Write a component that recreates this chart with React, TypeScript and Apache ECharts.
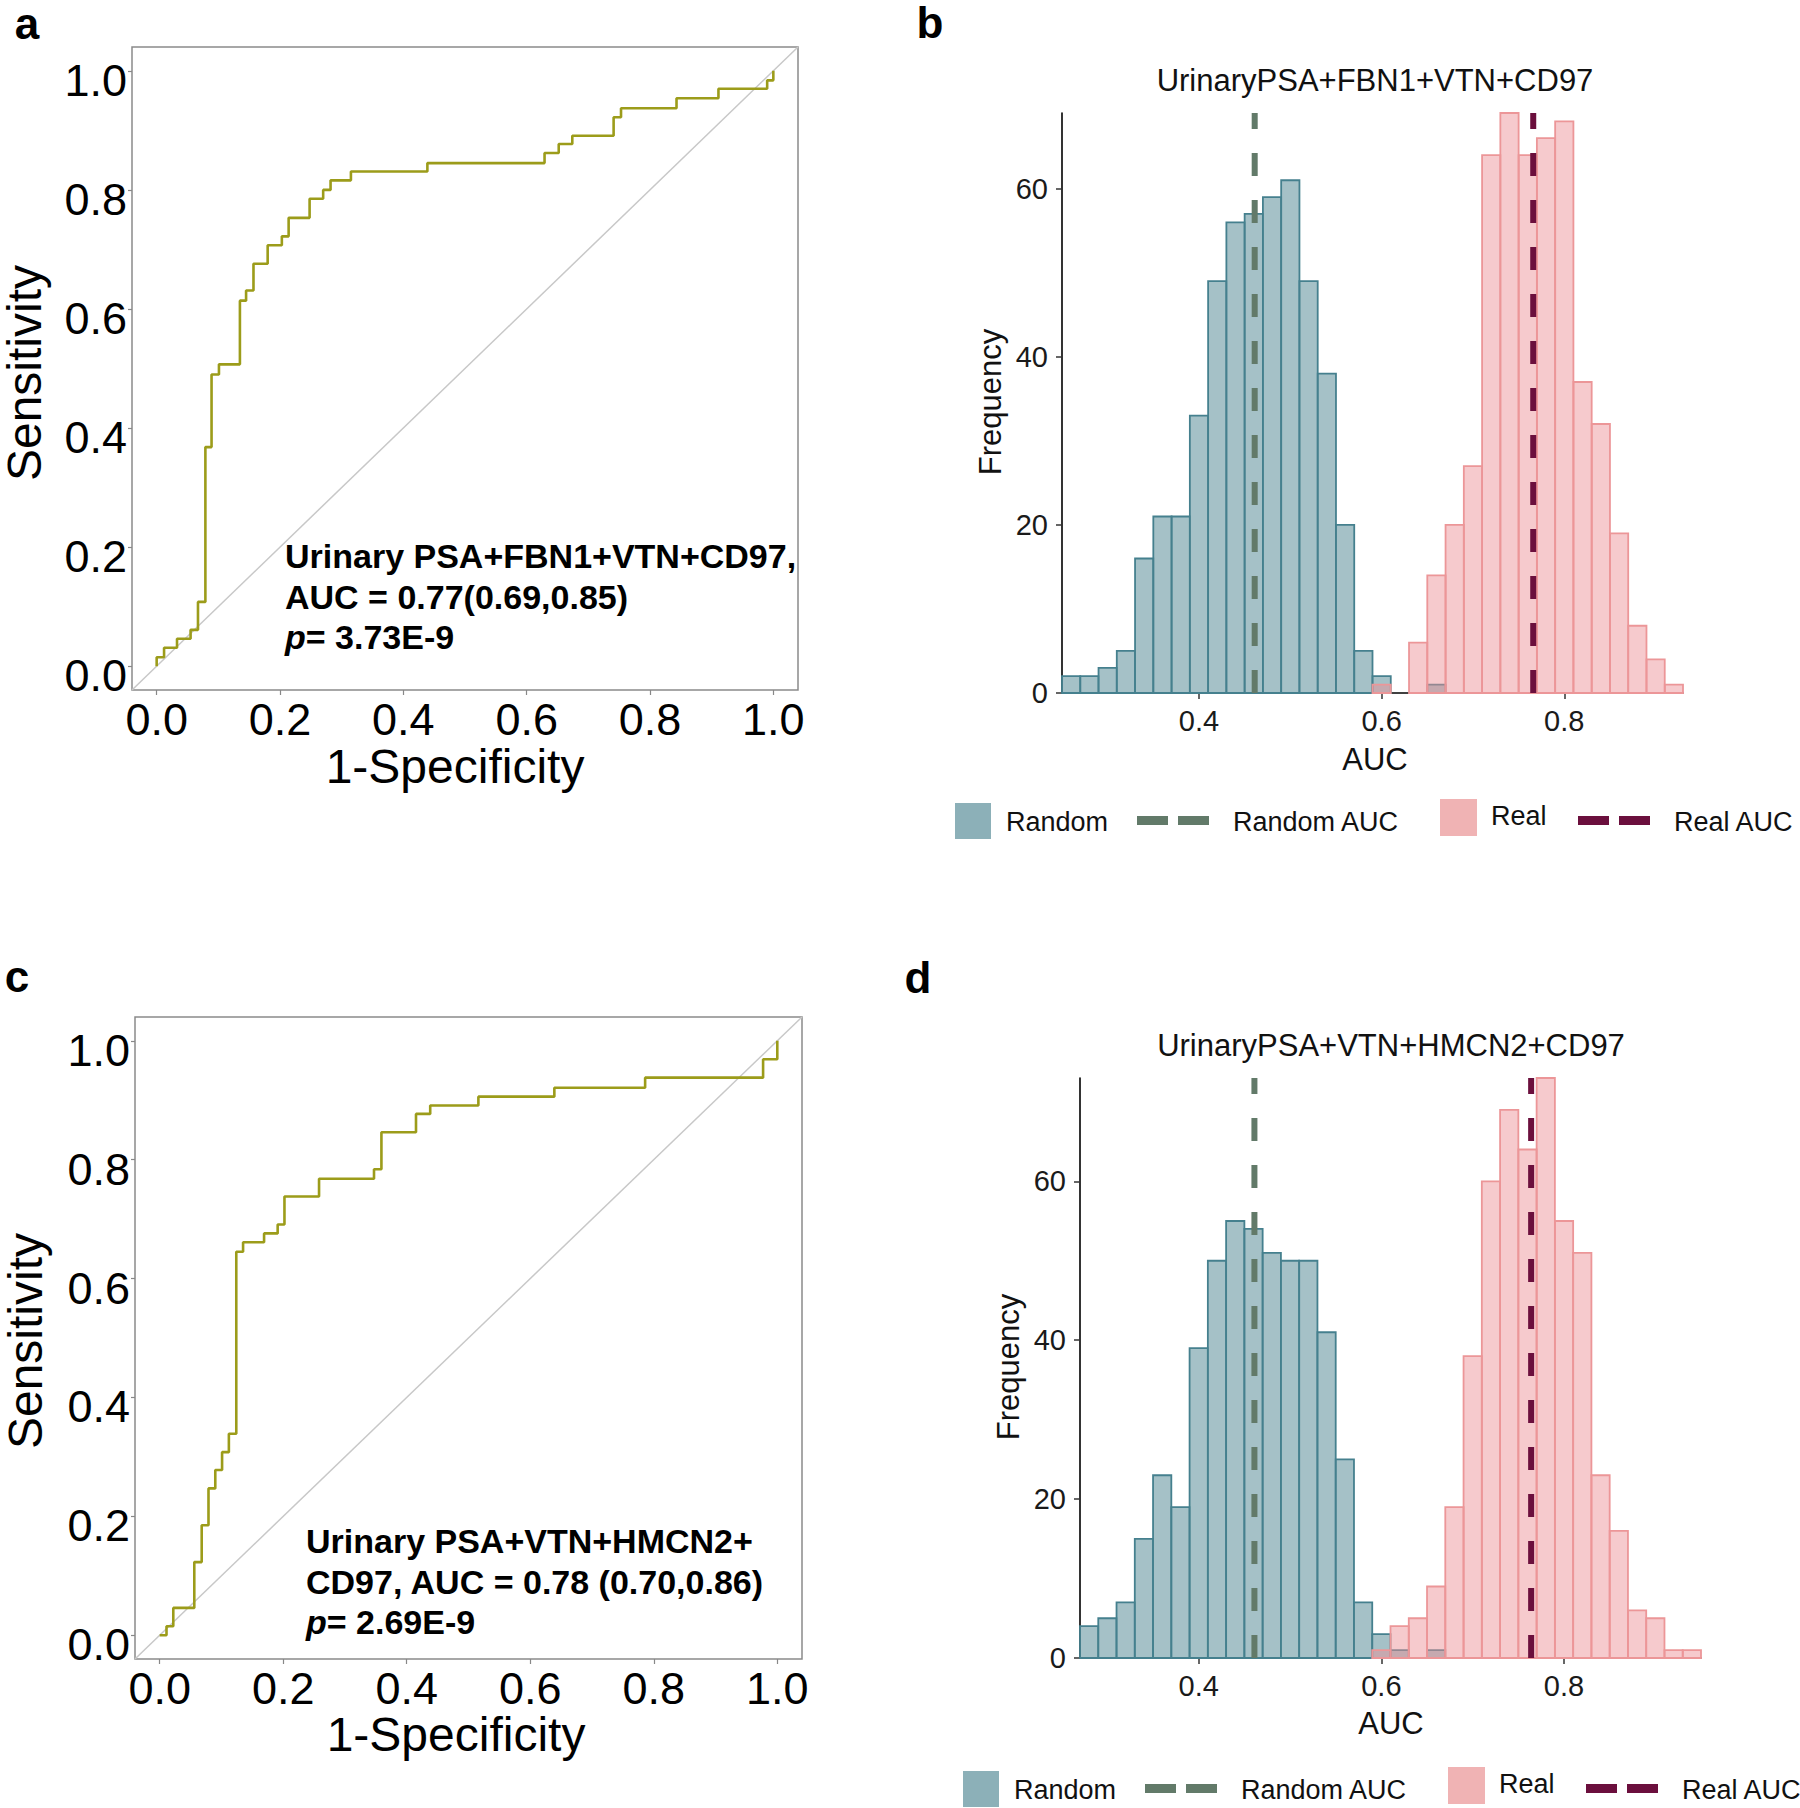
import React, { useEffect, useRef } from 'react';
import * as echarts from 'echarts';

// ---------- DATA ----------
// Panel a ROC (1-specificity, sensitivity) corner points, drawn as a step line
const ROC_A_FPR = [0, 0.012, 0.033, 0.055, 0.067, 0.079, 0.089, 0.101, 0.135, 0.145, 0.157, 0.180, 0.203, 0.214, 0.248, 0.270, 0.282, 0.315, 0.439, 0.629, 0.652, 0.674, 0.741, 0.753, 0.843, 0.911, 0.990, 1.0, 1.0];
const ROC_A_TPR = [0, 0.015, 0.031, 0.046, 0.061, 0.108, 0.368, 0.490, 0.507, 0.614, 0.631, 0.676, 0.707, 0.722, 0.753, 0.785, 0.800, 0.816, 0.831, 0.845, 0.862, 0.877, 0.891, 0.922, 0.937, 0.954, 0.970, 0.984, 1.0];
// Panel c ROC
const ROC_C_FPR = [0, 0.011, 0.022, 0.056, 0.068, 0.079, 0.090, 0.101, 0.112, 0.124, 0.135, 0.169, 0.191, 0.202, 0.258, 0.347, 0.359, 0.415, 0.438, 0.516, 0.639, 0.786, 0.977, 1.0, 1.0];
const ROC_C_TPR = [0, 0, 0.015, 0.046, 0.123, 0.185, 0.247, 0.278, 0.308, 0.339, 0.645, 0.661, 0.676, 0.691, 0.738, 0.768, 0.784, 0.846, 0.877, 0.891, 0.906, 0.921, 0.938, 0.969, 1.0];
const ROC_TICKS = [0, 0.2, 0.4, 0.6, 0.8, 1.0];

// Histograms (bin width 0.02)
const BIN_WIDTH = 0.02;
const HIST_B_START = 0.25;
const HIST_B_RANDOM = [2, 2, 3, 5, 16, 21, 21, 33, 49, 56, 57, 59, 61, 49, 38, 20, 5, 2, 0, 0, 1, 0, 0, 0, 0, 0, 0, 0, 0, 0, 0, 0, 0, 0];
const HIST_B_REAL = [0, 0, 0, 0, 0, 0, 0, 0, 0, 0, 0, 0, 0, 0, 0, 0, 0, 1, 0, 6, 14, 20, 27, 64, 69, 64, 66, 68, 37, 32, 19, 8, 4, 1];
const HIST_D_START = 0.27;
const HIST_D_RANDOM = [4, 5, 7, 15, 23, 19, 39, 50, 55, 54, 51, 50, 50, 41, 25, 7, 3, 1, 0, 1, 0, 0, 0, 0, 0, 0, 0, 0, 0, 0, 0, 0, 0, 0];
const HIST_D_REAL = [0, 0, 0, 0, 0, 0, 0, 0, 0, 0, 0, 0, 0, 0, 0, 0, 1, 4, 5, 9, 19, 38, 60, 69, 64, 73, 55, 51, 23, 16, 6, 5, 1, 1];
const AUC_B_RANDOM = 0.461;
const AUC_B_REAL = 0.766;
const AUC_D_RANDOM = 0.461;
const AUC_D_REAL = 0.764;
const HIST_B_YMAX = 69;
const HIST_D_YMAX = 73;
const HIST_X_TICKS = [0.4, 0.6, 0.8];
const HIST_Y_TICKS = [0, 20, 40, 60];

const TITLE_B = 'UrinaryPSA+FBN1+VTN+CD97';
const TITLE_D = 'UrinaryPSA+VTN+HMCN2+CD97';
const ANNOT_A = ['Urinary PSA+FBN1+VTN+CD97,', 'AUC = 0.77(0.69,0.85)', '= 3.73E-9'];
const ANNOT_C = ['Urinary PSA+VTN+HMCN2+', 'CD97, AUC = 0.78 (0.70,0.86)', '= 2.69E-9'];
const LEGEND_LABELS = ['Random', 'Random AUC', 'Real', 'Real AUC'];

// ---------- STYLE ----------
const FONT = '"Liberation Sans", Arial, Helvetica, sans-serif';
const ROC_COLOR = '#9c9c1a';
const DIAG_COLOR = '#c8c8c8';
const RANDOM_FILL = 'rgba(110,155,165,0.62)';
const RANDOM_STROKE = '#45808e';
const REAL_FILL = 'rgba(236,143,148,0.47)';
const REAL_STROKE = '#ec9698';
const RANDOM_AUC_COLOR = '#627a69';
const REAL_AUC_COLOR = '#6b0f3d';
const RANDOM_KEY = '#8cb0b8';
const REAL_KEY = '#f0b3b4';

function toBins(start: number, counts: number[]) {
  return counts
    .map((c, i) => [start + i * BIN_WIDTH, start + (i + 1) * BIN_WIDTH, c])
    .filter((d) => d[2] > 0);
}

function histSeries(idx: number, name: string, data: number[][], fill: string, stroke: string) {
  return {
    type: 'custom',
    name,
    xAxisIndex: idx,
    yAxisIndex: idx,
    data,
    encode: { x: [0, 1], y: 2 },
    silent: true,
    renderItem: (params: any, api: any) => {
      const a = api.coord([api.value(0), api.value(2)]);
      const b = api.coord([api.value(1), 0]);
      return {
        type: 'rect',
        shape: { x: a[0], y: a[1], width: b[0] - a[0], height: b[1] - a[1] },
        style: { fill, stroke, lineWidth: 1.8 },
      };
    },
  };
}

function aucLine(idx: number, name: string, x: number, ymax: number, color: string) {
  return {
    type: 'line',
    name,
    xAxisIndex: idx,
    yAxisIndex: idx,
    data: [[x, 0], [x, ymax]],
    symbol: 'none',
    silent: true,
    z: 5,
    lineStyle: { color, width: 6, type: [23, 24] },
  };
}

function rocAxes(idx: number) {
  const x = {
    gridIndex: idx,
    type: 'value',
    position: 'bottom',
    min: -0.04,
    max: 1.04,
    axisLine: { show: false, onZero: false },
    splitLine: { show: false },
    axisTick: { show: true, customValues: ROC_TICKS, length: 5, lineStyle: { color: '#888', width: 1.2 } },
    axisLabel: {
      customValues: ROC_TICKS,
      formatter: (v: number) => v.toFixed(1),
      fontSize: 45,
      lineHeight: 40,
      color: '#000',
      fontFamily: FONT,
      margin: 9,
    },
  };
  const y = {
    gridIndex: idx,
    type: 'value',
    position: 'left',
    min: -0.04,
    max: 1.04,
    axisLine: { show: false, onZero: false },
    splitLine: { show: false },
    axisTick: { show: true, customValues: ROC_TICKS, length: 4, lineStyle: { color: '#888', width: 1.2 } },
    axisLabel: {
      customValues: ROC_TICKS,
      formatter: (v: number) => v.toFixed(1),
      fontSize: 45,
      lineHeight: 19,
      verticalAlign: 'top',
      color: '#000',
      fontFamily: FONT,
      margin: 5,
    },
  };
  return { x, y };
}

function histAxes(idx: number, min: number, max: number, ymax: number) {
  const lineStyle = { color: '#000', width: 1.6 };
  const x = {
    gridIndex: idx,
    type: 'value',
    position: 'bottom',
    min,
    max,
    axisLine: { show: true, onZero: false, lineStyle },
    splitLine: { show: false },
    axisTick: { show: true, customValues: HIST_X_TICKS, length: 6, lineStyle: { color: '#333', width: 1.5 } },
    axisLabel: {
      customValues: HIST_X_TICKS,
      formatter: (v: number) => v.toFixed(1),
      fontSize: 29,
      color: '#1a1a1a',
      fontFamily: FONT,
      margin: 13,
    },
  };
  const y = {
    gridIndex: idx,
    type: 'value',
    position: 'left',
    min: 0,
    max: ymax,
    axisLine: { show: true, onZero: false, lineStyle },
    splitLine: { show: false },
    axisTick: { show: true, customValues: HIST_Y_TICKS, length: 6, lineStyle: { color: '#333', width: 1.5 } },
    axisLabel: {
      customValues: HIST_Y_TICKS,
      fontSize: 29,
      color: '#1a1a1a',
      fontFamily: FONT,
      margin: 14,
    },
  };
  return { x, y };
}

function txt(text: string, x: number, y: number, size: number, opts: any = {}) {
  const align = opts.align || 'center';
  const vAlign = opts.vAlign || 'middle';
  return {
    type: 'text',
    x,
    y,
    rotation: opts.rotation || 0,
    silent: true,
    style: {
      text,
      fontSize: size,
      lineHeight: opts.lineHeight || size,
      fontWeight: opts.bold ? 'bold' : 'normal',
      fontFamily: FONT,
      fill: opts.color || '#000',
      align,
      verticalAlign: vAlign,
      textAlign: align,
      textVerticalAlign: vAlign,
      rich: opts.rich,
    },
  };
}

function annotation(lines: string[], left: number, ys: number[]) {
  const rich = {
    i: { fontSize: 34, fontWeight: 'bold', fontStyle: 'italic', fontFamily: FONT, fill: '#000', color: '#000' },
    n: { fontSize: 34, fontWeight: 'bold', fontFamily: FONT, fill: '#000', color: '#000' },
  };
  return [
    txt(lines[0], left, ys[0], 34, { bold: true, align: 'left' }),
    txt(lines[1], left, ys[1], 34, { bold: true, align: 'left' }),
    txt('{i|p}{n|' + lines[2] + '}', left, ys[2], 34, { bold: true, align: 'left', rich }),
  ];
}

function legend(x0: number, yc: number) {
  const els: any[] = [];
  // Random key
  els.push({ type: 'rect', silent: true, shape: { x: x0, y: yc - 18, width: 36, height: 36 }, style: { fill: RANDOM_KEY } });
  els.push(txt(LEGEND_LABELS[0], x0 + 51, yc + 1, 27, { align: 'left', color: '#111' }));
  // Random AUC dashes
  els.push({ type: 'rect', silent: true, shape: { x: x0 + 182, y: yc - 5, width: 31, height: 9 }, style: { fill: RANDOM_AUC_COLOR } });
  els.push({ type: 'rect', silent: true, shape: { x: x0 + 223, y: yc - 5, width: 31, height: 9 }, style: { fill: RANDOM_AUC_COLOR } });
  els.push(txt(LEGEND_LABELS[1], x0 + 278, yc + 1, 27, { align: 'left', color: '#111' }));
  // Real key
  els.push({ type: 'rect', silent: true, shape: { x: x0 + 485, y: yc - 22, width: 37, height: 37 }, style: { fill: REAL_KEY } });
  els.push(txt(LEGEND_LABELS[2], x0 + 536, yc - 5, 27, { align: 'left', color: '#111' }));
  // Real AUC dashes
  els.push({ type: 'rect', silent: true, shape: { x: x0 + 623, y: yc - 5, width: 31, height: 9 }, style: { fill: REAL_AUC_COLOR } });
  els.push({ type: 'rect', silent: true, shape: { x: x0 + 664, y: yc - 5, width: 31, height: 9 }, style: { fill: REAL_AUC_COLOR } });
  els.push(txt(LEGEND_LABELS[3], x0 + 719, yc + 1, 27, { align: 'left', color: '#111' }));
  return els;
}

export default function App() {
  const ref = useRef<HTMLDivElement>(null);

  useEffect(() => {
    document.body.style.margin = '0';
    if (!ref.current) return;
    const chart = echarts.init(ref.current, null, { renderer: 'svg', width: 1800, height: 1808 });

    const aAx = rocAxes(0);
    const bAx = histAxes(1, HIST_B_START, HIST_B_START + HIST_B_RANDOM.length * BIN_WIDTH, HIST_B_YMAX);
    const cAx = rocAxes(2);
    const dAx = histAxes(3, HIST_D_START, HIST_D_START + HIST_D_RANDOM.length * BIN_WIDTH, HIST_D_YMAX);

    const rocA = ROC_A_FPR.map((x, i) => [x, ROC_A_TPR[i]]);
    const rocC = ROC_C_FPR.map((x, i) => [x, ROC_C_TPR[i]]);
    const diag = [[-0.04, -0.04], [1.04, 1.04]];

    const option: any = {
      animation: false,
      backgroundColor: '#fff',
      grid: [
        { left: 132, top: 47, width: 666, height: 643, show: true, borderColor: '#8a8a8a', borderWidth: 1.5, backgroundColor: 'transparent' },
        { left: 1062, top: 113, width: 621, height: 580, show: false },
        { left: 135, top: 1017, width: 667, height: 642, show: true, borderColor: '#8a8a8a', borderWidth: 1.5, backgroundColor: 'transparent' },
        { left: 1080, top: 1078, width: 621, height: 580, show: false },
      ],
      xAxis: [aAx.x, bAx.x, cAx.x, dAx.x],
      yAxis: [aAx.y, bAx.y, cAx.y, dAx.y],
      series: [
        { type: 'line', name: 'diagA', xAxisIndex: 0, yAxisIndex: 0, data: diag, symbol: 'none', silent: true, lineStyle: { color: DIAG_COLOR, width: 1.5 } },
        { type: 'line', name: 'ROC a', xAxisIndex: 0, yAxisIndex: 0, data: rocA, step: 'start', symbol: 'none', silent: true, z: 4, lineStyle: { color: ROC_COLOR, width: 2.6 } },
        histSeries(1, 'Random b', toBins(HIST_B_START, HIST_B_RANDOM), RANDOM_FILL, RANDOM_STROKE),
        histSeries(1, 'Real b', toBins(HIST_B_START, HIST_B_REAL), REAL_FILL, REAL_STROKE),
        aucLine(1, 'Random AUC b', AUC_B_RANDOM, HIST_B_YMAX, RANDOM_AUC_COLOR),
        aucLine(1, 'Real AUC b', AUC_B_REAL, HIST_B_YMAX, REAL_AUC_COLOR),
        { type: 'line', name: 'diagC', xAxisIndex: 2, yAxisIndex: 2, data: diag, symbol: 'none', silent: true, lineStyle: { color: DIAG_COLOR, width: 1.5 } },
        { type: 'line', name: 'ROC c', xAxisIndex: 2, yAxisIndex: 2, data: rocC, step: 'start', symbol: 'none', silent: true, z: 4, lineStyle: { color: ROC_COLOR, width: 2.6 } },
        histSeries(3, 'Random d', toBins(HIST_D_START, HIST_D_RANDOM), RANDOM_FILL, RANDOM_STROKE),
        histSeries(3, 'Real d', toBins(HIST_D_START, HIST_D_REAL), REAL_FILL, REAL_STROKE),
        aucLine(3, 'Random AUC d', AUC_D_RANDOM, HIST_D_YMAX, RANDOM_AUC_COLOR),
        aucLine(3, 'Real AUC d', AUC_D_REAL, HIST_D_YMAX, REAL_AUC_COLOR),
      ],
      graphic: {
        elements: [
          // panel letters
          txt('a', 27, 23, 44, { bold: true, lineHeight: 36 }),
          txt('b', 930, 22, 44, { bold: true, lineHeight: 36 }),
          txt('c', 17, 976, 44, { bold: true, lineHeight: 36 }),
          txt('d', 918, 977, 44, { bold: true, lineHeight: 36 }),
          // ROC axis titles
          txt('1-Specificity', 455, 766, 48, { lineHeight: 44 }),
          txt('Sensitivity', 24, 373, 48, { rotation: Math.PI / 2, lineHeight: 44 }),
          txt('1-Specificity', 456, 1734, 48, { lineHeight: 44 }),
          txt('Sensitivity', 25, 1341, 48, { rotation: Math.PI / 2, lineHeight: 44 }),
          // annotations
          ...annotation(ANNOT_A, 285, [556, 597, 637]),
          ...annotation(ANNOT_C, 306, [1541, 1582, 1622]),
          // histogram titles and axis names
          txt(TITLE_B, 1375, 80, 31, { color: '#111' }),
          txt('AUC', 1375, 759, 31, { color: '#111' }),
          txt('Frequency', 990, 402, 31, { rotation: Math.PI / 2, color: '#111' }),
          txt(TITLE_D, 1391, 1045, 31, { color: '#111' }),
          txt('AUC', 1391, 1723, 31, { color: '#111' }),
          txt('Frequency', 1008, 1367, 31, { rotation: Math.PI / 2, color: '#111' }),
          // legends
          ...legend(955, 821),
          ...legend(963, 1789),
        ],
      },
    };

    chart.setOption(option);
    return () => {
      chart.dispose();
    };
  }, []);

  return <div ref={ref} style={{ width: 1800, height: 1808 }} />;
}
